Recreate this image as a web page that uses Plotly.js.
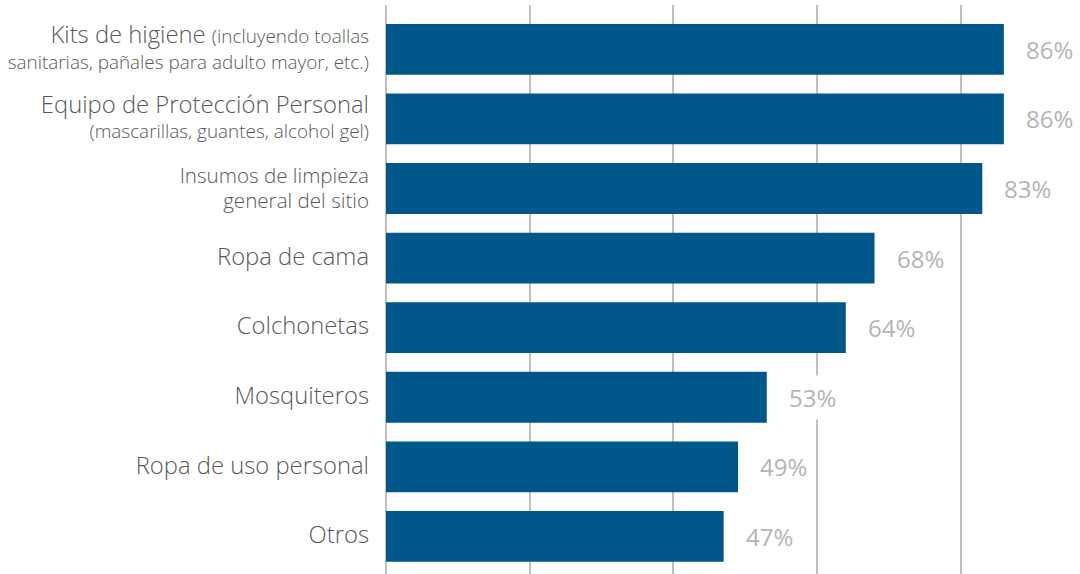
<!DOCTYPE html>
<html>
<head>
<meta charset="utf-8">
<script src="https://cdn.plot.ly/plotly-3.0.1.min.js"></script>
<style>
  html, body { margin: 0; padding: 0; background: #ffffff; }
  #chart { width: 1080px; height: 574px; }
</style>
</head>
<body>
<div id="chart"></div>
<script>
// Insumos entregados: porcentaje por tipo de artículo
const categories = [
  "Kits de higiene",
  "Equipo de Protección Personal",
  "Insumos de limpieza general del sitio",
  "Ropa de cama",
  "Colchonetas",
  "Mosquiteros",
  "Ropa de uso personal",
  "Otros"
];
const values = [86, 86, 83, 68, 64, 53, 49, 47];
const tickLabels = [
  "Kits de higiene (incluyendo toallas<br>sanitarias, pañales para adulto mayor, etc.)",
  "Equipo de Protección Personal<br>(mascarillas, guantes, alcohol gel)",
  "Insumos de limpieza<br>general del sitio",
  "Ropa de cama",
  "Colchonetas",
  "Mosquiteros",
  "Ropa de uso personal",
  "Otros"
];
const xTicks = [0, 20, 40, 60, 80];

const BAR = "#00578a";
const GRID = "#bfbfbf";
const TEXT = "#595959";
const LABEL = "#b4b4b4";
const FONT = "Open Sans, DejaVu Sans, sans-serif";

const SIZE_MAIN = 23.8;
const SIZE_DETAIL = 18.9;
const SIZE_WRAPPED = 20.6;

function span(t, size) {
  return '<span style="font-size:' + size + 'px">' + t + '</span>';
}

// Main name large, parenthetical detail smaller; wrapped plain labels medium.
function styleTick(label) {
  const lines = label.split("<br>");
  const cut = label.indexOf("(");
  if (cut < 0) {
    const size = lines.length > 1 ? SIZE_WRAPPED : SIZE_MAIN;
    return lines.map(l => span(l, size)).join("<br>");
  }
  const out = [];
  let pos = 0;
  for (const line of lines) {
    const start = pos, end = pos + line.length;
    if (cut >= end) out.push(span(line, SIZE_MAIN));
    else if (cut <= start) out.push(span(line, SIZE_DETAIL));
    else out.push(span(line.slice(0, cut - start), SIZE_MAIN) + span(line.slice(cut - start), SIZE_DETAIL));
    pos = end + 4;
  }
  return out.join("<br>");
}

const trace = {
  type: "bar",
  orientation: "h",
  x: values,
  y: categories,
  marker: { color: BAR },
  hoverinfo: "skip"
};

const annotations = values.map((v, i) => ({
  x: v,
  y: categories[i],
  xref: "x",
  yref: "y",
  xanchor: "left",
  yanchor: "middle",
  xshift: 16,
  text: v + "%",
  showarrow: false,
  bgcolor: "#ffffff",
  borderpad: 5,
  font: { family: FONT, size: 24, color: LABEL }
}));

const layout = {
  width: 1080,
  height: 574,
  margin: { l: 386, r: 0, t: 5, b: 0, pad: 0 },
  paper_bgcolor: "#ffffff",
  plot_bgcolor: "#ffffff",
  showlegend: false,
  bargap: 0.27,
  font: { family: FONT, color: TEXT },
  xaxis: {
    range: [0, 96.6],
    tickvals: xTicks,
    showticklabels: false,
    showgrid: true,
    gridcolor: GRID,
    gridwidth: 2,
    zeroline: true,
    zerolinecolor: GRID,
    zerolinewidth: 2,
    showline: false,
    fixedrange: true
  },
  yaxis: {
    type: "category",
    categoryorder: "array",
    categoryarray: categories,
    range: [7.54, -0.637],
    tickvals: categories,
    ticktext: tickLabels.map(styleTick),
    tickfont: { family: FONT, size: 19.5, color: TEXT, weight: 300 },
    ticks: "",
    ticklabelstandoff: 16,
    showgrid: false,
    zeroline: false,
    showline: false,
    fixedrange: true
  },
  annotations: annotations
};

Plotly.newPlot("chart", [trace], layout, { displayModeBar: false, staticPlot: true });
</script>
</body>
</html>
